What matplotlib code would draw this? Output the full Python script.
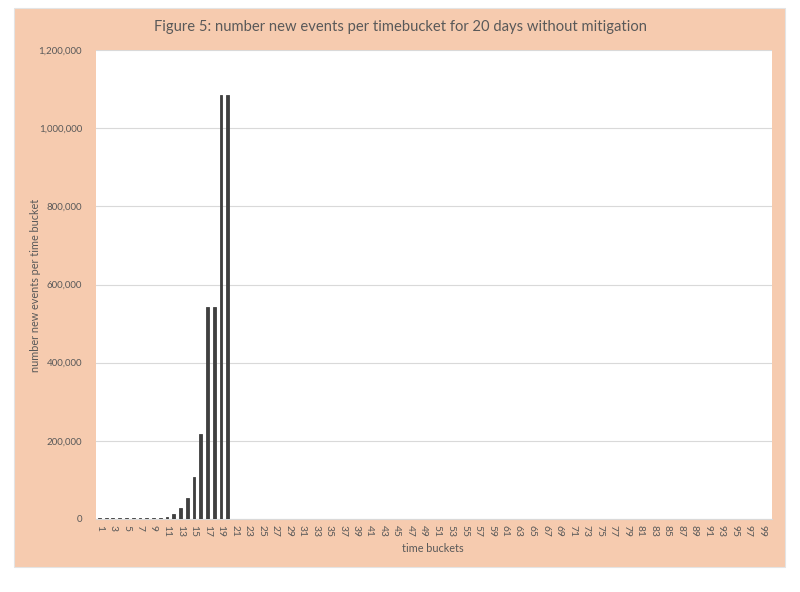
import matplotlib
matplotlib.use("Agg")
import matplotlib.pyplot as plt
from matplotlib.patches import Rectangle
from matplotlib.ticker import FuncFormatter, MultipleLocator

plt.rcParams['font.family'] = ['Lato', 'DejaVu Sans']

# data
buckets = list(range(1, 101))
early = [1500, 1500, 1500, 1500, 1500, 1500, 2000, 2000, 2500, 3000,
         6000, 12000, 27000, 55000, 108000, 217000, 543000, 543000, 1085000, 1085000]
new_events = early + [0] * (len(buckets) - len(early))
tick_labels = [str(b) for b in buckets]

title = "Figure 5: number new events per timebucket for 20 days without mitigation"
xlabel = "time buckets"
ylabel = "number new events per time bucket"

peach = "#F6CBAF"
text_col = "#595959"

W, H = 800, 592
fig = plt.figure(figsize=(W / 100, H / 100), dpi=100)
fig.patch.set_facecolor("white")

# peach chart area
fig.patches.append(Rectangle((14 / W, 1 - 567 / H), (785 - 14) / W, (567 - 8) / H,
                             transform=fig.transFigure, facecolor=peach,
                             edgecolor="#e4e4e4", linewidth=0.8, zorder=-5))

ax = fig.add_axes([96 / W, 1 - 519 / H, (772 - 96) / W, (519 - 50) / H])
ax.set_zorder(2)
ax.set_facecolor("white")
x = list(range(len(buckets)))
nz = [i for i in x if new_events[i] > 0]
ax.bar(nz, [new_events[i] for i in nz], width=0.42, color="#404040",
       edgecolor="#404040", linewidth=0.6, zorder=3)

ax.set_xlim(-0.5, len(buckets) - 0.5)
ax.set_ylim(0, 1200000)
ax.yaxis.set_major_locator(MultipleLocator(200000))
ax.yaxis.set_major_formatter(FuncFormatter(lambda v, p: f"{int(v):,}"))
ax.grid(axis="y", color="#d9d9d9", linewidth=0.8, zorder=0)
ax.set_axisbelow(True)

ax.set_xticks(x[::2])
ax.set_xticklabels(tick_labels[::2], rotation=-90)
for s in ["top", "right", "left"]:
    ax.spines[s].set_visible(False)
ax.spines["bottom"].set_color("#d9d9d9")
ax.tick_params(axis="both", length=0, colors=text_col, labelsize=7)
ax.tick_params(axis="x", labelsize=7.4)
ax.tick_params(axis="y", pad=10)
ax.tick_params(axis="x", pad=4)

fig.text(433 / W, 1 - 548 / H, xlabel, ha="center", va="center",
         color=text_col, fontsize=7.8)
fig.text(36 / W, 1 - 285 / H, ylabel, ha="center", va="center", rotation=90,
         color=text_col, fontsize=7.8)

fig.text(400 / W, 1 - 27 / H, title, ha="center", va="center",
         color=text_col, fontsize=10.6)

fig.savefig("out.png", dpi=100, facecolor=fig.get_facecolor())
